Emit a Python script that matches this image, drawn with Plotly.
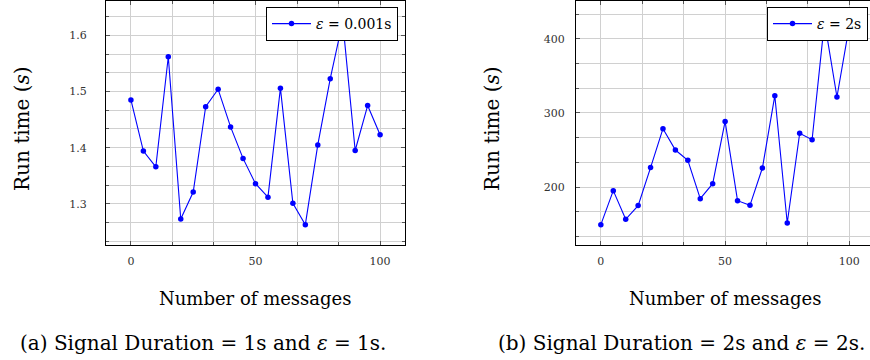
import plotly.graph_objects as go

# ---------------- data ----------------
messages = [0, 5, 10, 15, 20, 25, 30, 35, 40, 45, 50, 55, 60, 65, 70, 75, 80, 85, 90, 95, 100]
run_time_a = [1.485, 1.394, 1.366, 1.562, 1.273, 1.321, 1.473, 1.504, 1.437, 1.381, 1.336,
              1.312, 1.506, 1.301, 1.263, 1.405, 1.523, 1.625, 1.395, 1.475, 1.423]
run_time_b = [149.2, 195.1, 156.4, 174.9, 226.2, 278.7, 249.9, 236.0, 184.3, 204.5, 288.5,
              181.6, 175.3, 225.6, 323.2, 151.5, 272.4, 263.8, 423.5, 321.4, 418.0]
legend_a = "<i>ε</i> = 0.001s"
legend_b = "<i>ε</i> = 2s"
x_label = "Number of messages"
y_label = "Run time (<i>s</i>)"
caption_a = "(a) Signal Duration = 1s and <i>ε</i> = 1s."
caption_b = "(b) Signal Duration = 2s and <i>ε</i> = 2s."

FONT = "DejaVu Serif"
W, H = 870, 360
BLUE = "#0000ff"
GRID = "#d0d0d0"
TICKC = "#555555"


def padded(vals):
    lo, hi = min(vals), max(vals)
    p = 0.1 * (hi - lo)
    return [lo - p, hi + p]


fig = go.Figure()
fig.add_trace(go.Scatter(x=messages, y=run_time_a, mode="lines+markers", name=legend_a,
                         line=dict(color=BLUE, width=1.1), marker=dict(size=5.5, color=BLUE),
                         xaxis="x", yaxis="y", legend="legend"))
fig.add_trace(go.Scatter(x=messages, y=run_time_b, mode="lines+markers", name=legend_b,
                         line=dict(color=BLUE, width=1.1), marker=dict(size=5.5, color=BLUE),
                         xaxis="x2", yaxis="y2", legend="legend2"))

ydom = [1 - 245 / H, 1 - 1 / H]

common = dict(showgrid=True, gridcolor=GRID, gridwidth=1, zeroline=False,
              showline=True, linecolor="black", linewidth=1,
              ticks="inside", ticklen=4, tickcolor=TICKC, tickwidth=1,
              tickfont=dict(family=FONT, size=11, color="#333333"),
              automargin=False)

legend_common = dict(y=1 - 7 / H, xanchor="right", yanchor="top",
                     bgcolor="white", bordercolor="black", borderwidth=1,
                     font=dict(family=FONT, size=14, color="black"), itemwidth=39)

fig.update_layout(
    width=W, height=H,
    margin=dict(l=0, r=0, t=0, b=0),
    paper_bgcolor="white", plot_bgcolor="white",
    font=dict(family=FONT, color="black"),
    xaxis=dict(domain=[106 / W, 405 / W], range=[-10, 110], anchor="y",
               tick0=0, dtick=50, mirror="allticks", ticklabelstandoff=6,
               minor=dict(tick0=0, dtick=50 / 3, showgrid=True, gridcolor=GRID,
                          ticks="inside", ticklen=3, tickcolor=TICKC), **common),
    yaxis=dict(domain=ydom, range=padded(run_time_a), anchor="x",
               tick0=0, dtick=0.1, tickformat=".1f", mirror="allticks", ticklabelstandoff=16,
               minor=dict(tick0=0, dtick=0.1 / 3, showgrid=True, gridcolor=GRID,
                          ticks="inside", ticklen=3, tickcolor=TICKC), **common),
    xaxis2=dict(domain=[576 / W, 1.0], range=[-10, 108.3], anchor="y2",
                tick0=0, dtick=50, mirror="allticks", ticklabelstandoff=6,
                minor=dict(tick0=0, dtick=50 / 3, showgrid=True, gridcolor=GRID,
                           ticks="inside", ticklen=3, tickcolor=TICKC), **common),
    yaxis2=dict(domain=ydom, range=padded(run_time_b), anchor="x2",
                tick0=0, dtick=100, mirror=False, ticklabelstandoff=8,
                minor=dict(tick0=0, dtick=100 / 3, showgrid=True, gridcolor=GRID,
                           ticks="inside", ticklen=3, tickcolor=TICKC), **common),
    legend=dict(x=398 / W, **legend_common),
    legend2=dict(x=868 / W, **legend_common),
    showlegend=True,
)

ann = []
for cx, cap_x, cap in [(255, 203, caption_a), (725, 681, caption_b)]:
    ann.append(dict(text=x_label, x=cx / W, y=1 - 298 / H, xref="paper", yref="paper",
                    xanchor="center", yanchor="middle", showarrow=False,
                    font=dict(family=FONT, size=18, color="black")))
    ann.append(dict(text=cap, x=cap_x / W, y=1 - 343 / H, xref="paper", yref="paper",
                    xanchor="center", yanchor="middle", showarrow=False,
                    font=dict(family=FONT, size=20, color="black")))
for lx in [22, 492]:
    ann.append(dict(text=y_label, x=lx / W, y=1 - 129 / H, xref="paper", yref="paper",
                    xanchor="center", yanchor="middle", showarrow=False, textangle=-90,
                    font=dict(family=FONT, size=20, color="black")))
fig.update_layout(annotations=ann)

fig.write_html("out.html", config={"displayModeBar": False},
               post_script="document.body.style.margin='0';document.body.style.overflow='hidden';")
